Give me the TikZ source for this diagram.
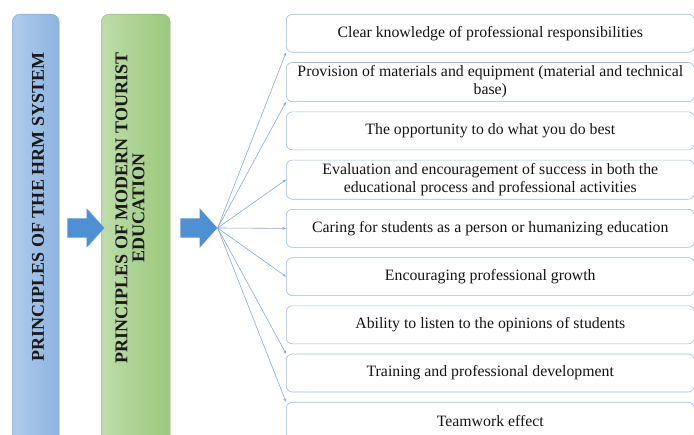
\documentclass[tikz,border=0pt]{standalone}
\usepackage{fontspec}
\setmainfont{Liberation Serif}
\usepackage{xcolor}
\usetikzlibrary{arrows.meta,positioning,shapes.arrows}

\definecolor{hrmL}{HTML}{AFCBEB}
\definecolor{hrmR}{HTML}{8DB3E0}
\definecolor{eduL}{HTML}{BEDCAA}
\definecolor{eduR}{HTML}{9BC87A}
\definecolor{flow}{HTML}{4F8FD3}
\definecolor{itemline}{HTML}{A3BCDB}
\definecolor{fan}{HTML}{86A9D6}

\begin{document}
\begin{tikzpicture}[x=1pt, y=-1pt,
  pillar/.style={rectangle, rounded corners=8pt, anchor=north west, inner sep=0pt,
                 minimum height=431pt},
  ptext/.style={rotate=90, align=center, text=black!90,
                font=\fontsize{18}{17}\selectfont\bfseries},
  bigarr/.style={single arrow, fill=flow, draw=none, inner sep=9.5pt,
                 single arrow head extend=10pt, single arrow tip angle=96,
                 minimum height=37pt},
  item/.style={rectangle, rounded corners=6pt, draw=itemline, semithick, fill=white,
               minimum width=408pt, minimum height=38pt, align=center,
               font=\fontsize{15.8}{18}\selectfont, text=black!92},
  fanarr/.style={-{Stealth[length=3.5pt,width=2.8pt]}, draw=fan, line width=0.6pt},
]
\useasboundingbox (0,0) rectangle (694,435);

% two principle columns
\node[pillar, minimum width=47pt, left color=hrmL, right color=hrmR, draw=hrmR!90!black]
  (hrm) at (12,14) {};
\node[pillar, minimum width=69pt, left color=eduL, right color=eduR, draw=eduR!90!black]
  (edu) at (101,14) {};
\node[ptext] (hrmtext) at (38,207) {PRINCIPLES OF THE HRM SYSTEM};
\node[ptext] (edutext) at (130,208) {PRINCIPLES OF MODERN TOURIST\\EDUCATION};

% block arrows
\node[bigarr] (arr1) at (81.5,228) {};
\node[bigarr] (arr2) at (194.5,228) {};

% list of components
\node[item, anchor=north west] (item1) at (286,14) {Clear knowledge of professional responsibilities};
\node[item, below=9.6pt of item1] (item2) {Provision of materials and equipment (material and technical\\base)};
\node[item, below=9.6pt of item2] (item3) {The opportunity to do what you do best};
\node[item, below=9.6pt of item3] (item4) {Evaluation and encouragement of success in both the\\educational process and professional activities};
\node[item, below=9.6pt of item4] (item5) {Caring for students as a person or humanizing education};
\node[item, below=9.6pt of item5] (item6) {Encouraging professional growth};
\node[item, below=9.6pt of item6] (item7) {Ability to listen to the opinions of students};
\node[item, below=9.6pt of item7] (item8) {Training and professional development};
\node[item, below=9.6pt of item8] (item9) {Teamwork effect};

% fan of arrows
\draw[fanarr] (arr2.tip) -- (item1.south west);
\draw[fanarr] (arr2.tip) -- (item2.south west);
\draw[fanarr] (arr2.tip) -- (item4.west);
\draw[fanarr] (arr2.tip) -- (item5.west);
\draw[fanarr] (arr2.tip) -- (item6.west);
\draw[fanarr] (arr2.tip) -- (item8.north west);
\draw[fanarr] (arr2.tip) -- (item9.north west);
\end{tikzpicture}
\end{document}
